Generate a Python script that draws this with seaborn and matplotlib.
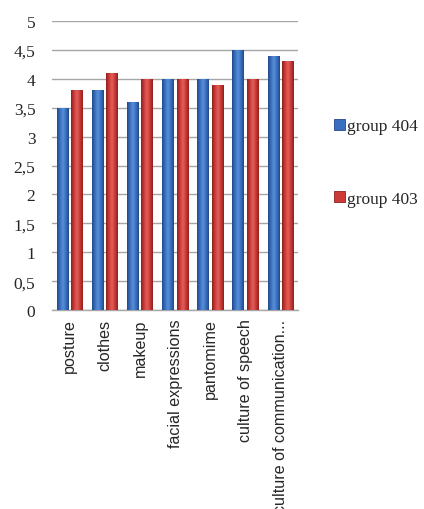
import numpy as np
import pandas as pd
import matplotlib
matplotlib.use("Agg")
import matplotlib.pyplot as plt
from matplotlib.colors import LinearSegmentedColormap
from matplotlib.patches import Patch
import seaborn as sns

categories = ["posture", "clothes", "makeup", "facial expressions",
              "pantomime", "culture of speech", "culture of communication..."]
group_404 = [3.5, 3.8, 3.6, 4.0, 4.0, 4.5, 4.4]
group_403 = [3.8, 4.1, 4.0, 4.0, 3.9, 4.0, 4.3]
series_names = ["group 404", "group 403"]
y_ticks = [0, 0.5, 1, 1.5, 2, 2.5, 3, 3.5, 4, 4.5, 5]

df = pd.DataFrame({
    "category": categories * 2,
    "value": group_404 + group_403,
    "group": [series_names[0]] * len(categories) + [series_names[1]] * len(categories),
})

sns.set_style("white")
plt.rcParams["font.family"] = ["Liberation Serif", "DejaVu Serif"]

fig = plt.figure(figsize=(4.24, 5.10), dpi=100)
ax = fig.add_axes([0.123, 0.390, 0.580, 0.567])

base = {"group 404": "#3a6fbf", "group 403": "#cc3a37"}
dark = {"group 404": "#1f4a8a", "group 403": "#8c1f1d"}
light = {"group 404": "#5a8fd8", "group 403": "#e0605c"}

sns.barplot(data=df, x="category", y="value", hue="group", order=categories,
            hue_order=series_names, palette=base, width=0.82, gap=0.2,
            ax=ax, legend=False, zorder=3)

# horizontal shading across each bar (dark edges, lighter middle)
bars = list(ax.patches)
n = len(categories)
for i, patch in enumerate(bars):
    grp = series_names[i // n]
    cmap = LinearSegmentedColormap.from_list(
        grp, [dark[grp], base[grp], light[grp], base[grp], dark[grp]])
    x0, y0 = patch.get_x(), patch.get_y()
    w, h = patch.get_width(), patch.get_height()
    grad = np.linspace(0, 1, 64).reshape(1, -1)
    im = ax.imshow(grad, cmap=cmap, extent=[x0, x0 + w, y0, y0 + h],
                   aspect="auto", zorder=3, interpolation="bilinear")
    im.set_clip_path(patch)
    patch.set_facecolor("none")
    patch.set_edgecolor("none")
ax.set_xlim(-0.5, n - 0.5)
ax.set_ylim(0, 5)

ax.set_yticks(y_ticks)
ax.set_yticklabels([f"{t:g}".replace(".", ",") for t in y_ticks], fontsize=12.5)
ax.yaxis.grid(True, color="#a6a6a6", linewidth=1.0, zorder=0)
ax.set_axisbelow(True)
ax.tick_params(axis="y", length=0, pad=12)
ax.tick_params(axis="x", length=0, pad=6)

ax.set_xticks(range(n))
ax.set_xticklabels(categories, rotation=90, fontsize=11.6,
                   family=["Liberation Sans", "DejaVu Sans"], va="top")
ax.set_xlabel("")
ax.set_ylabel("")

for side in ["top", "right", "left"]:
    ax.spines[side].set_visible(False)
ax.spines["bottom"].set_color("#a6a6a6")
ax.spines["bottom"].set_linewidth(1.0)

handles = [Patch(facecolor=base[g], edgecolor=dark[g], linewidth=0.6) for g in series_names]
fig.legend(handles, series_names, loc="center left", bbox_to_anchor=(0.752, 0.679),
           frameon=False, fontsize=12.5, handlelength=0.6, handleheight=0.6,
           handletextpad=0.12, labelspacing=3.25)

fig.savefig("out.png", dpi=100)
